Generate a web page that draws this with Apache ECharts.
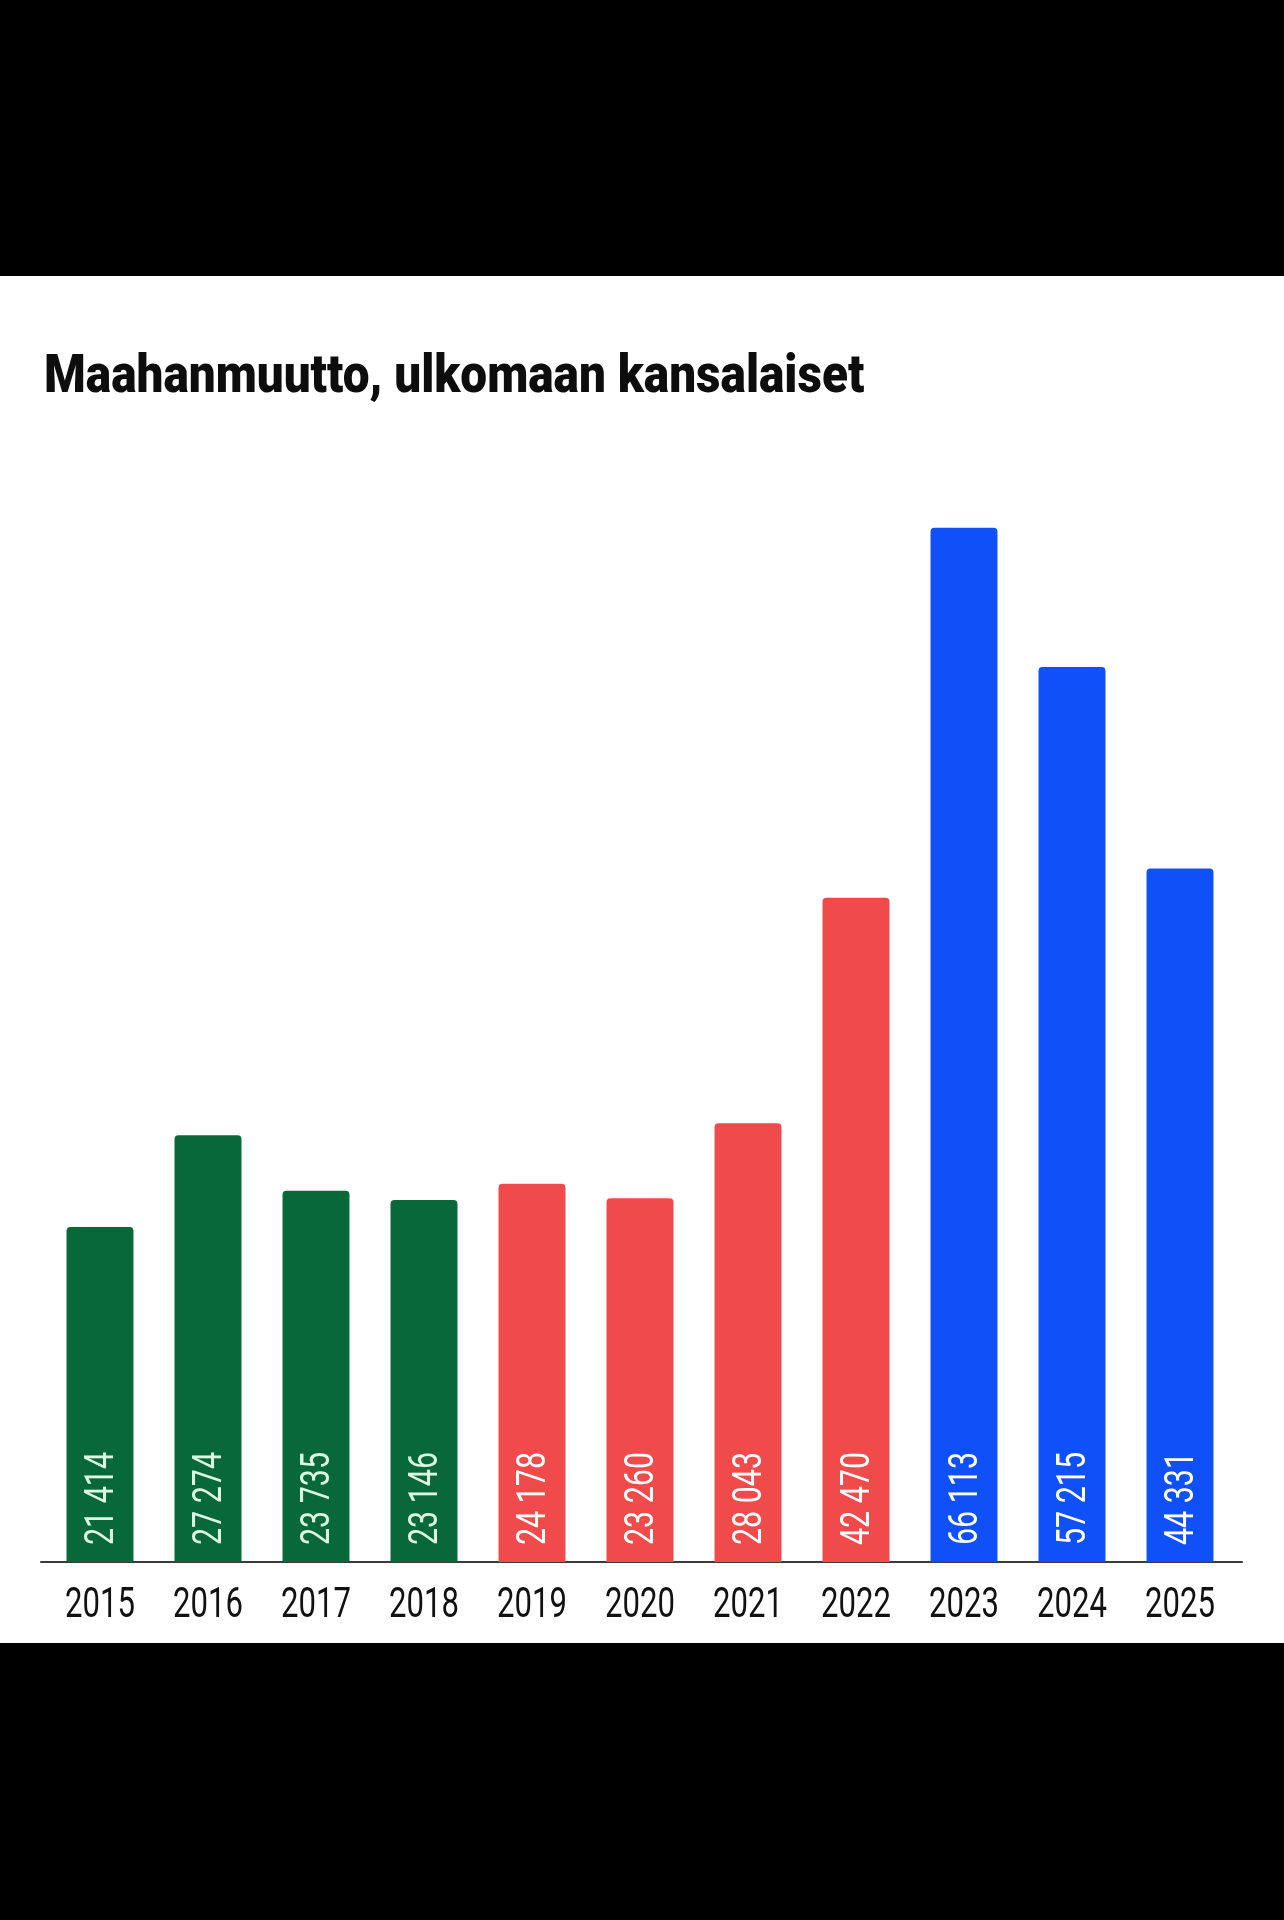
<!DOCTYPE html>
<html>
<head>
<meta charset="utf-8">
<script src="https://cdn.jsdelivr.net/npm/echarts@6/dist/echarts.min.js"></script>
<style>
  html, body { margin: 0; padding: 0; background: #000; width: 1284px; height: 1920px; overflow: hidden; }
  #chart { position: absolute; left: 0; top: 276px; width: 1284px; height: 1367px; background: #fff; }
</style>
</head>
<body>
<div id="chart"></div>
<script>
const title = 'Maahanmuutto, ulkomaan kansalaiset';
const years = ['2015', '2016', '2017', '2018', '2019', '2020', '2021', '2022', '2023', '2024', '2025'];
const values = [21414, 27274, 23735, 23146, 24178, 23260, 28043, 42470, 66113, 57215, 44331];
const groups = ['g', 'g', 'g', 'g', 'r', 'r', 'r', 'r', 'b', 'b', 'b'];

const barColors = { g: '#08683a', r: '#f04a4a', b: '#1050f8' };
const labelColors = { g: '#dcf7e2', r: '#ffffff', b: '#ffffff' };
const font = 'Roboto, "Noto Sans", sans-serif';

function fmt(v) {
  return String(v).replace(/\B(?=(\d{3})+(?!\d))/g, ' ');
}

const chart = echarts.init(document.getElementById('chart'), null, { renderer: 'canvas' });
chart.setOption({
  animation: false,
  backgroundColor: '#ffffff',
  graphic: [{
    type: 'text',
    left: 44,
    top: 76,
    scaleX: 0.9,
    style: { text: title, fontFamily: font, fontWeight: 900, fontSize: 53, fill: '#0d0d0d' }
  }],
  grid: [
    { left: 46, right: 50, top: 191, bottom: 81, containLabel: false },
    { left: 41, right: 42, top: 191, bottom: 81, containLabel: false }
  ],
  xAxis: [
    {
      type: 'category',
      gridIndex: 0,
      data: years,
      axisLine: { show: false },
      axisTick: { show: false },
      axisLabel: { show: false }
    },
    {
      type: 'value',
      gridIndex: 1,
      min: 0, max: 1,
      axisLine: { show: true, lineStyle: { color: '#3a3a3a', width: 2 } },
      axisTick: { show: false },
      axisLabel: { show: false },
      splitLine: { show: false }
    }
  ],
  yAxis: [
    { type: 'value', gridIndex: 0, min: 0, max: 70000, show: false },
    { type: 'value', gridIndex: 1, min: 0, max: 1, show: false }
  ],
  series: [
    {
      type: 'bar',
      xAxisIndex: 0,
      yAxisIndex: 0,
      barWidth: '62%',
      data: values.map((v, i) => ({
        value: v,
        itemStyle: { color: barColors[groups[i]], borderRadius: [4, 4, 0, 0] }
      }))
    },
    {
      type: 'custom',
      xAxisIndex: 0,
      yAxisIndex: 0,
      z: 5,
      data: values.map((v, i) => [i, v]),
      renderItem: function (params, api) {
        const i = api.value(0);
        const base = api.coord([i, 0]);
        return {
          type: 'group',
          children: [
            {
              type: 'text',
              x: base[0] + 3,
              y: base[1] - 17,
              rotation: Math.PI / 2,
              scaleX: 0.76,
              style: {
                text: fmt(values[i]),
                fontFamily: font,
                fontSize: 40,
                fill: labelColors[groups[i]],
                align: 'left',
                verticalAlign: 'middle'
              }
            },
            {
              type: 'text',
              x: base[0],
              y: base[1] + 23,
              scaleX: 0.74,
              style: {
                text: years[i],
                fontFamily: font,
                fontSize: 42,
                fill: '#111111',
                align: 'center',
                verticalAlign: 'top'
              }
            }
          ]
        };
      }
    }
  ]
});
</script>
</body>
</html>
